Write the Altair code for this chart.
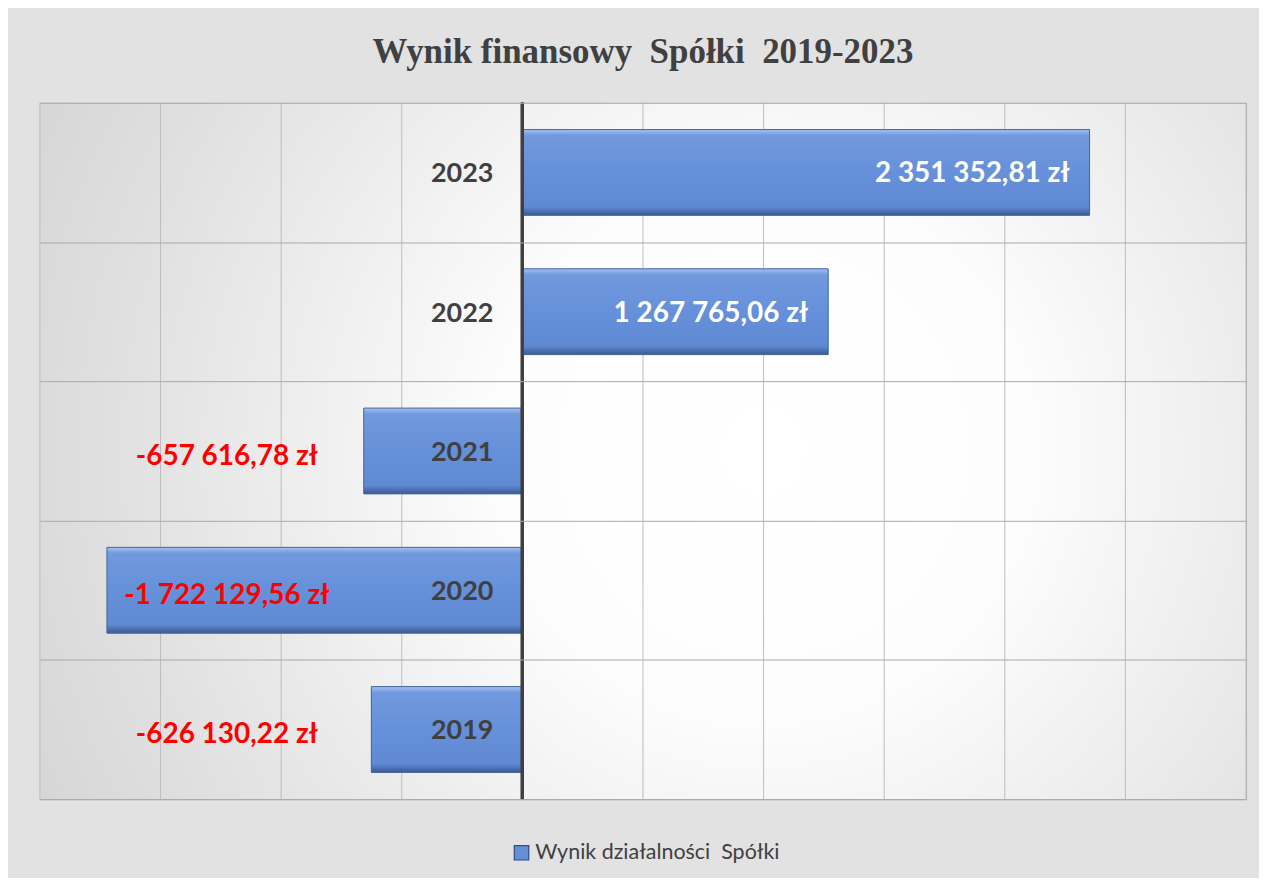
import altair as alt
import pandas as pd

# ---- data -------------------------------------------------------------
years = ["2023", "2022", "2021", "2020", "2019"]
values = [2351352.81, 1267765.06, -657616.78, -1722129.56, -626130.22]
series_name = "Wynik działalności\u00a0 Spółki"
x_ticks = [-2000000, -1500000, -1000000, -500000, 0, 500000, 1000000,
           1500000, 2000000, 2500000, 3000000]
x_domain = [-2000000, 3000000]


def pl_money(v):
    s = f"{abs(v):,.2f}".replace(",", " ").replace(".", ",")
    return ("-" if v < 0 else "") + s + " zł"


df = pd.DataFrame({
    "year": years,
    "value": values,
    "label": [pl_money(v) for v in values],
    "series": [series_name] * len(years),
})
ticks_df = pd.DataFrame({"tick": x_ticks})
panel_df = pd.DataFrame({"lo": [x_domain[0]], "hi": [x_domain[1]]})

NEG_LABEL_X = -1225000  # where the negative value labels sit
BLUE = "#6590d8"

bar_fill = alt.LinearGradient(
    gradient="linear", x1=0, y1=0, x2=0, y2=1,
    stops=[
        alt.GradientStop(offset=0, color="#a6c1f0"),
        alt.GradientStop(offset=0.07, color="#7099de"),
        alt.GradientStop(offset=0.5, color="#6690d9"),
        alt.GradientStop(offset=0.9, color="#5f89d2"),
        alt.GradientStop(offset=1, color="#3a5a94"),
    ],
)

panel_fill = alt.RadialGradient(
    gradient="radial", x1=0.6, y1=0.5, x2=0.6, y2=0.5, r1=0, r2=0.72,
    stops=[
        alt.GradientStop(offset=0, color="#ffffff"),
        alt.GradientStop(offset=0.3, color="#fdfdfd"),
        alt.GradientStop(offset=0.75, color="#e0e0e0"),
        alt.GradientStop(offset=1, color="#d2d2d2"),
    ],
)

x_scale = alt.Scale(domain=x_domain, nice=False, zero=False)
y_scale = alt.Scale(domain=years, paddingInner=0, paddingOuter=0)

y_axis = alt.Axis(labels=False, ticks=False, domain=False, grid=True,
                  gridColor="#a9a9a9", gridWidth=1, tickBand="extent",
                  title=None, zindex=1)

Y = alt.Y("year:N", scale=y_scale, sort=years, axis=y_axis)

panel = alt.Chart(panel_df).mark_rect(fill=panel_fill).encode(
    x=alt.X("lo:Q", scale=x_scale, axis=None),
    x2="hi:Q",
)

vgrid = alt.Chart(ticks_df).mark_rule(color="#bdbdbd", strokeWidth=1).encode(
    x=alt.X("tick:Q", scale=x_scale, axis=None)
)

base = alt.Chart(df).transform_calculate(
    zero="0", neg_x=str(NEG_LABEL_X)
)

legend_bars = base.mark_bar(size=86).encode(
    x=alt.X("value:Q", scale=x_scale, axis=None),
    x2="zero:Q",
    y=Y,
    color=alt.Color("series:N",
                    scale=alt.Scale(domain=[series_name], range=[BLUE]),
                    legend=alt.Legend(title=None, orient="none",
                                      legendX=472, legendY=741,
                                      symbolType="square", symbolSize=210,
                                      symbolStrokeColor="#2d4d88",
                                      symbolStrokeWidth=1.2,
                                      labelFont="Lato", labelFontSize=21.5,
                                      labelColor="#404040", labelOffset=3,
                                      labelLimit=0)),
)

bars = base.mark_bar(
    fill=bar_fill, stroke="#44679f", strokeWidth=1, size=86,
).encode(
    x=alt.X("value:Q", scale=x_scale, axis=None),
    x2="zero:Q",
    y=Y,
)

zero_rule = base.mark_rule(color="#404040", strokeWidth=3).encode(
    x=alt.X("zero:Q", scale=x_scale, axis=None)
)

year_text = base.mark_text(
    font="Lato", fontSize=27, fontWeight="bold", color="#404040",
    align="right", baseline="middle", dx=-29, dy=2,
).encode(
    x=alt.X("zero:Q", scale=x_scale, axis=None),
    y=Y,
    text="year:N",
)

pos_text = base.transform_filter("datum.value >= 0").mark_text(
    font="Lato", fontSize=28, fontWeight="bold", color="#ffffff",
    align="right", baseline="middle", dx=-20, dy=2,
).encode(
    x=alt.X("value:Q", scale=x_scale, axis=None),
    y=Y,
    text="label:N",
)

neg_text = base.transform_filter("datum.value < 0").mark_text(
    font="Lato", fontSize=28, fontWeight="bold", color="#ff0000",
    align="center", baseline="middle", dy=6,
).encode(
    x=alt.X("neg_x:Q", scale=x_scale, axis=None),
    y=Y,
    text="label:N",
)

chart = alt.layer(
    panel, vgrid, legend_bars, bars, zero_rule, year_text, pos_text, neg_text
).properties(
    width=1209, height=698,
    title=alt.TitleParams("Wynik finansowy\u00a0 Spółki\u00a0 2019-2023",
                          font="Liberation Serif", fontSize=35,
                          fontWeight="bold", color="#404040",
                          anchor="middle", offset=31),
    autosize=alt.AutoSizeParams(type="none"),
    padding={"left": 32, "top": 94, "right": 13, "bottom": 78},
    background="#e2e2e2",
).configure_view(
    stroke="#a6a6a6", strokeWidth=1,
)

chart.save("out.html", embed_options={"renderer": "svg", "actions": False})
